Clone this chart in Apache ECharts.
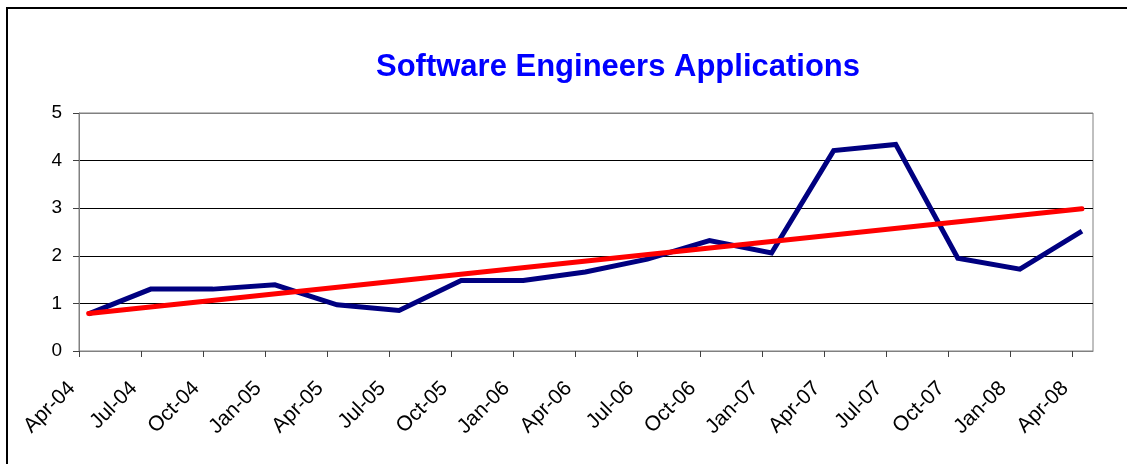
<!DOCTYPE html>
<html>
<head>
<meta charset="utf-8">
<script src="https://cdn.jsdelivr.net/npm/echarts@6/dist/echarts.min.js"></script>
<style>
html, body { margin: 0; padding: 0; background: #fff; }
#chart { width: 1127px; height: 464px; }
</style>
</head>
<body>
<div id="chart"></div>
<script>
// quarter tick labels on the x axis (Apr-04 .. Apr-08)
const tickLabels = ['Apr-04', 'Jul-04', 'Oct-04', 'Jan-05', 'Apr-05', 'Jul-05', 'Oct-05', 'Jan-06',
  'Apr-06', 'Jul-06', 'Oct-06', 'Jan-07', 'Apr-07', 'Jul-07', 'Oct-07', 'Jan-08', 'Apr-08'];
// dates of the samples (mid month)
const sampleDates = ['2004-04-15', '2004-07-15', '2004-10-15', '2005-01-15', '2005-04-15', '2005-07-15',
  '2005-10-15', '2006-01-15', '2006-04-15', '2006-07-15', '2006-10-15', '2007-01-15', '2007-04-15',
  '2007-07-15', '2007-10-15', '2008-01-15', '2008-04-15'];
const applications = [0.78, 1.30, 1.30, 1.39, 0.97, 0.85, 1.48, 1.48, 1.66, 1.93, 2.32, 2.06, 4.21,
  4.34, 1.95, 1.72, 2.52];
// linear trend line at both ends
const trendDates = ['2004-04-15', '2008-04-15'];
const trendValues = [0.79, 2.99];
const yTicks = [0, 1, 2, 3, 4, 5];

// months since 1 Apr 2004
function toMonth(d) {
  const [y, m, dd] = d.split('-').map(Number);
  return (y - 2004) * 12 + (m - 4) + (dd - 1) / 30;
}
const tickMonths = tickLabels.map((l, i) => i * 3);

const myChart = echarts.init(document.getElementById('chart'));
const option = {
  animation: false,
  backgroundColor: '#fff',
  title: {
    text: 'Software Engineers Applications',
    left: 613,
    top: 47,
    textAlign: 'center',
    textStyle: {
      color: '#0000ff',
      fontFamily: 'Liberation Sans, Arial, sans-serif',
      fontWeight: 'bold',
      fontSize: 31,
    },
  },
  graphic: [
    {
      // outer chart frame (left + top visible)
      type: 'rect',
      shape: { x: 7, y: 8, width: 1200, height: 600 },
      style: { fill: 'none', stroke: '#000', lineWidth: 2 },
      silent: true,
    },
  ],
  grid: {
    left: 79,
    right: 34,
    top: 113,
    bottom: 113,
    show: true,
    borderColor: '#808080',
    borderWidth: 1,
    outerBoundsMode: 'none',
  },
  xAxis: {
    type: 'value',
    min: 0,
    max: 49,
    interval: 3,
    splitLine: { show: false },
    axisLine: { lineStyle: { color: '#808080', width: 1 } },
    axisTick: {
      customValues: tickMonths,
      length: 6,
      lineStyle: { color: '#404040' },
    },
    axisLabel: {
      customValues: tickMonths,
      rotate: 45,
      margin: 27,
      padding: [0, 10, 0, 0],
      color: '#000',
      fontFamily: 'Liberation Sans, Arial, sans-serif',
      fontSize: 21,
      formatter: v => tickLabels[Math.round(v / 3)] || '',
    },
  },
  yAxis: {
    type: 'value',
    min: 0,
    max: 5,
    interval: 1,
    axisLine: { show: true, lineStyle: { color: '#808080', width: 1 } },
    axisTick: { show: true, length: 6, lineStyle: { color: '#404040' } },
    splitLine: {
      lineStyle: { color: ['#808080', '#000', '#000', '#000', '#000', '#808080'], width: 1 },
    },
    axisLabel: {
      margin: 17,
      color: '#000',
      fontFamily: 'Liberation Sans, Arial, sans-serif',
      fontSize: 19,
      formatter: v => (yTicks.includes(v) ? String(v) : ''),
    },
  },
  series: [
    {
      name: 'Applications',
      type: 'line',
      data: sampleDates.map((d, i) => [toMonth(d), applications[i]]),
      symbol: 'none',
      lineStyle: { color: '#000080', width: 5, join: 'miter' },
      z: 2,
    },
    {
      name: 'Trend',
      type: 'line',
      data: trendDates.map((d, i) => [toMonth(d), trendValues[i]]),
      symbol: 'none',
      lineStyle: { color: '#ff0000', width: 5, cap: 'round' },
      z: 3,
    },
  ],
};
myChart.setOption(option);

window.addEventListener('resize', () => {
  myChart.resize();
});
</script>
</body>
</html>
